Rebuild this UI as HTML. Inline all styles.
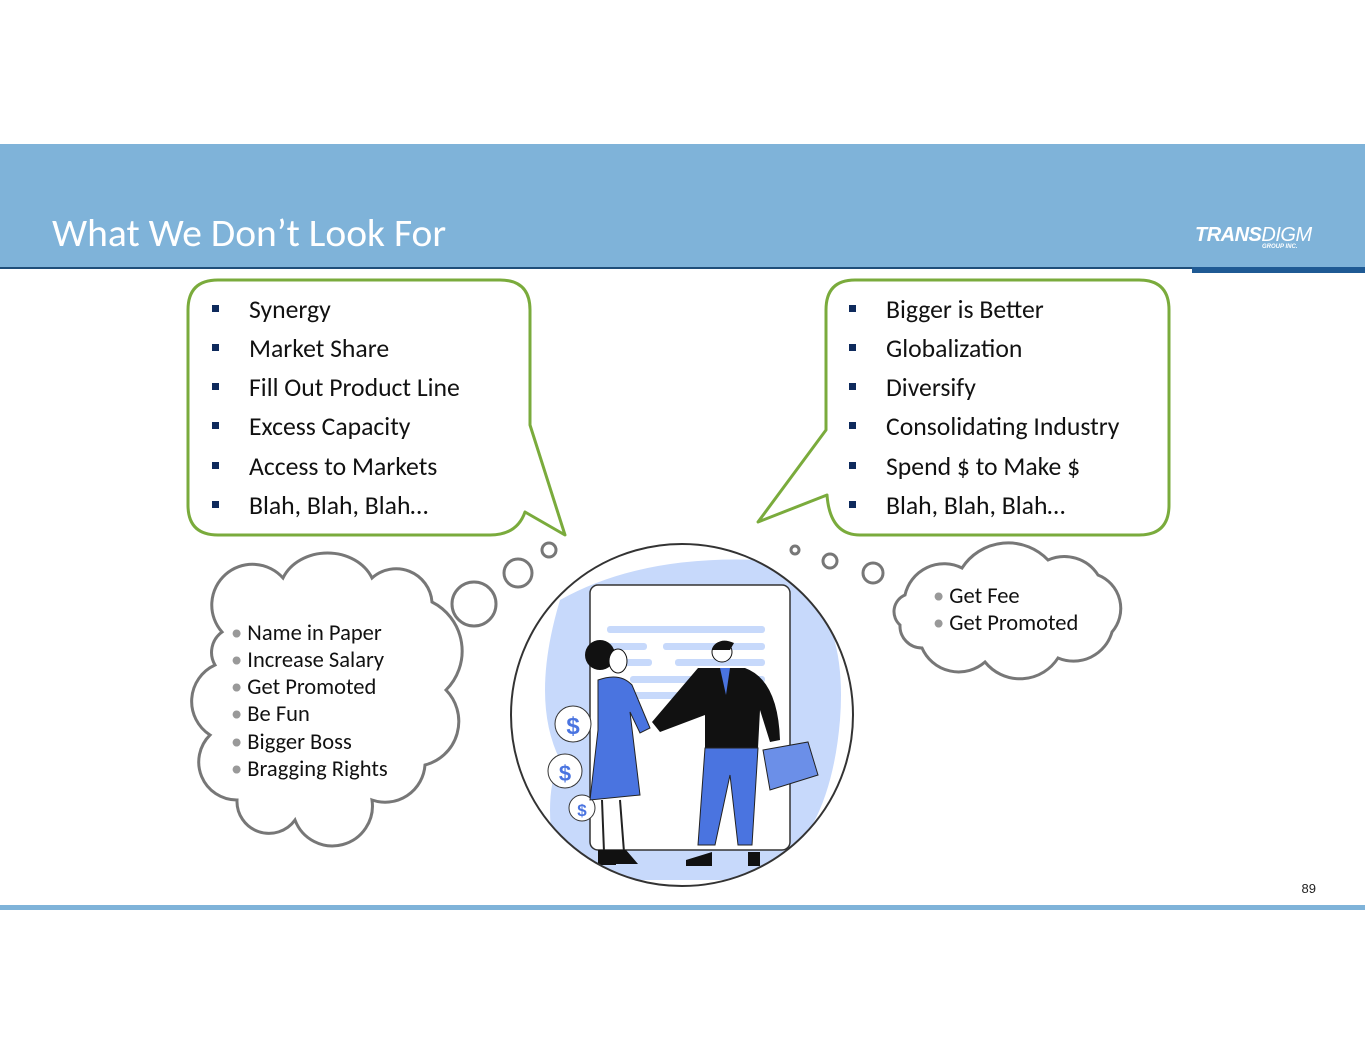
<!DOCTYPE html>
<html><head><meta charset="utf-8"><style>
html,body{margin:0;padding:0;background:#fff}
body{width:1365px;height:1055px;overflow:hidden;position:relative;font-family:"Liberation Sans",sans-serif}
svg{position:absolute;left:0;top:0}
.t{font-family:Carlito,Calibri,"Liberation Sans",sans-serif}
</style></head><body>
<svg width="1365" height="1055" viewBox="0 0 1365 1055">
<rect x="0" y="144" width="1365" height="124" fill="#7fb3d9"/>
<rect x="0" y="267" width="1365" height="2" fill="#1f4e79"/>
<rect x="1192" y="267" width="173" height="6" fill="#1f5a94"/>
<rect x="0" y="905" width="1365" height="5" fill="#7fb3d9"/>
<text x="52" y="246" font-size="39.5" fill="#fff" class="t">What We Don’t Look For</text>
<text x="1195" y="241" font-size="20" font-weight="bold" font-style="italic" fill="#fff" letter-spacing="-0.5">TRANS<tspan font-weight="normal">DIGM</tspan></text>
<text x="1262" y="248" font-size="6" font-weight="bold" font-style="italic" fill="#fff">GROUP INC.</text>
<text x="1316" y="893" font-size="13" fill="#222" text-anchor="end">89</text>

<path d="M218,280 H500 Q530,280 530,310 V425 L565,535 L525,512 Q517,535 490,535 H218 Q188,535 188,505 V310 Q188,280 218,280 Z" fill="#fff" stroke="#7aab3c" stroke-width="3" stroke-linejoin="round"/>
<path d="M855,280 H1139 Q1169,280 1169,310 V505 Q1169,535 1139,535 H860 Q830,535 827,495 L758,522 L826,430 V310 Q826,280 855,280 Z" fill="#fff" stroke="#7aab3c" stroke-width="3" stroke-linejoin="round"/>

<g font-size="25.7" fill="#111" class="t">
<g fill="#0e2a5c"><rect x="212" y="305" width="7" height="7"/><rect x="212" y="344" width="7" height="7"/><rect x="212" y="383" width="7" height="7"/><rect x="212" y="422" width="7" height="7"/><rect x="212" y="462" width="7" height="7"/><rect x="212" y="501" width="7" height="7"/>
<rect x="849" y="305" width="7" height="7"/><rect x="849" y="344" width="7" height="7"/><rect x="849" y="383" width="7" height="7"/><rect x="849" y="422" width="7" height="7"/><rect x="849" y="462" width="7" height="7"/><rect x="849" y="501" width="7" height="7"/></g>
<text x="249" y="318">Synergy</text><text x="249" y="357">Market Share</text><text x="249" y="396">Fill Out Product Line</text><text x="249" y="435">Excess Capacity</text><text x="249" y="475">Access to Markets</text><text x="249" y="514">Blah, Blah, Blah…</text>
<text x="886" y="318">Bigger is Better</text><text x="886" y="357">Globalization</text><text x="886" y="396">Diversify</text><text x="886" y="435">Consolidating Industry</text><text x="886" y="475">Spend $ to Make $</text><text x="886" y="514">Blah, Blah, Blah…</text>
</g>

<g fill="#fff" stroke="#777" stroke-width="3">
<circle cx="474" cy="604" r="22"/><circle cx="518" cy="573" r="14"/><circle cx="549" cy="550" r="7"/>
<circle cx="795" cy="550" r="4"/><circle cx="830" cy="561" r="7"/><circle cx="873" cy="573" r="10"/>
<path d="M222,632 A40,40 0 0 1 283,578 A48,40 0 0 1 372,578 A36,36 0 0 1 432,602 A55,55 0 0 1 446,690 A45,45 0 0 1 425,765 A40,40 0 0 1 372,800 A40,40 0 0 1 295,820 A32,32 0 0 1 237,800 A38,38 0 0 1 210,735 A40,40 0 0 1 215,665 A25,25 0 0 1 222,632 Z"/>
<path d="M905,595 A40,40 0 0 1 962,568 A55,55 0 0 1 1048,560 A40,40 0 0 1 1098,575 A36,36 0 0 1 1112,632 A40,40 0 0 1 1058,658 A45,45 0 0 1 985,662 A40,40 0 0 1 922,648 A22,22 0 0 1 900,625 A18,18 0 0 1 905,595 Z"/>
</g>
<g font-size="22.5" fill="#111" class="t">
<text x="231" y="640"><tspan fill="#999">•</tspan> Name in Paper</text>
<text x="231" y="667"><tspan fill="#999">•</tspan> Increase Salary</text>
<text x="231" y="694"><tspan fill="#999">•</tspan> Get Promoted</text>
<text x="231" y="721"><tspan fill="#999">•</tspan> Be Fun</text>
<text x="231" y="749"><tspan fill="#999">•</tspan> Bigger Boss</text>
<text x="231" y="776"><tspan fill="#999">•</tspan> Bragging Rights</text>
<text x="933" y="603"><tspan fill="#999">•</tspan> Get Fee</text>
<text x="933" y="630"><tspan fill="#999">•</tspan> Get Promoted</text>
</g>

<defs><clipPath id="c"><circle cx="682" cy="715" r="171"/></clipPath></defs>
<circle cx="682" cy="715" r="171" fill="#fff"/>
<g clip-path="url(#c)">
<path d="M560,600 Q640,555 760,560 Q850,590 840,720 Q830,840 760,880 L560,880 Q540,800 560,760 Q530,700 560,600Z" fill="#c7d9fb"/>
<rect x="590" y="585" width="200" height="265" rx="8" fill="#fff" stroke="#333" stroke-width="1.5"/>
<g fill="#c7d9fb"><rect x="607" y="626" width="158" height="7" rx="3"/><rect x="607" y="643" width="40" height="7" rx="3"/><rect x="663" y="643" width="102" height="7" rx="3"/><rect x="607" y="659" width="45" height="7" rx="3"/><rect x="675" y="659" width="90" height="7" rx="3"/><rect x="630" y="676" width="135" height="7" rx="3"/><rect x="630" y="692" width="135" height="7" rx="3"/></g>
<circle cx="573" cy="724" r="18" fill="#fff" stroke="#333"/><text x="573" y="734" font-size="24" font-weight="bold" fill="#4a74e0" text-anchor="middle">$</text>
<circle cx="565" cy="771" r="17" fill="#fff" stroke="#333"/><text x="565" y="781" font-size="22" font-weight="bold" fill="#4a74e0" text-anchor="middle">$</text>
<circle cx="582" cy="808" r="13" fill="#fff" stroke="#333"/><text x="582" y="816" font-size="17" font-weight="bold" fill="#4a74e0" text-anchor="middle">$</text>
<circle cx="600" cy="655" r="15" fill="#111"/><ellipse cx="618" cy="661" rx="9" ry="12" fill="#fff" stroke="#111"/>
<path d="M598,680 Q620,672 632,685 L650,728 L640,733 L630,712 L640,795 L590,800 L598,730 Z" fill="#4a74e0" stroke="#222" stroke-width="1"/>
<path d="M602,800 L604,852 M620,800 L624,852" stroke="#222" stroke-width="2"/>
<path d="M598,850 h18 v15 h-18z M612,850 h14 l12,14 h-26z" fill="#111"/>
<circle cx="722" cy="652" r="10" fill="#fff" stroke="#111"/><path d="M712,650 Q718,636 734,643 L730,650Z" fill="#111"/>
<path d="M698,668 L745,668 Q778,680 780,740 L770,742 L760,710 L758,748 L705,748 L705,715 L660,732 L652,722 Z" fill="#111"/>
<path d="M720,668 L726,695 L730,668Z" fill="#4a74e0"/>
<path d="M705,748 L758,748 L752,845 L738,845 L730,775 L715,845 L698,845 Z" fill="#4a74e0" stroke="#222"/>
<path d="M686,860 L712,852 L712,866 L686,866Z M748,852 L760,852 L760,866 L748,866Z" fill="#111"/>
<path d="M763,750 L808,742 L818,775 L770,790 Z" fill="#6b8fe8" stroke="#222"/>
</g>
<circle cx="682" cy="715" r="171" fill="none" stroke="#333" stroke-width="2"/>
</svg>
</body></html>
